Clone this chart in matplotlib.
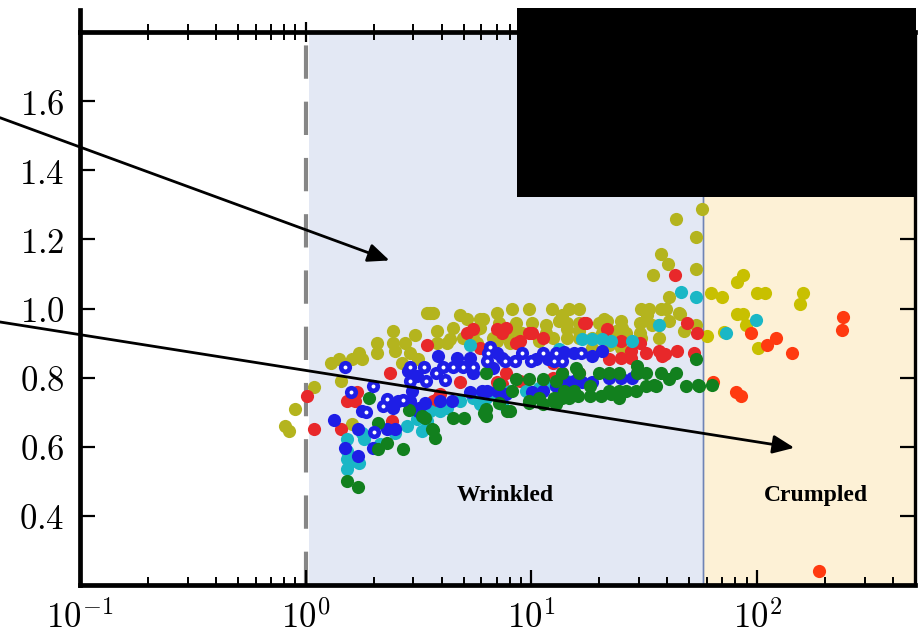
import matplotlib
matplotlib.use("Agg")
import matplotlib.pyplot as plt
from matplotlib.patches import Rectangle
from matplotlib.lines import Line2D
import numpy as np

plt.rcParams['mathtext.fontset'] = 'cm'

# ---------------- data ----------------
olive_x = [0.807, 0.841, 0.894, 1.085, 1.30, 1.41, 1.60, 1.73, 1.77, 2.06, 2.06, 2.43, 2.48, 2.74, 2.89,
           3.13, 1.44, 2.66, 3.43, 2.43, 3.04, 3.54, 3.65, 4.80, 5.16, 5.89, 7.07, 8.24, 9.79, 12.3,
           14.7, 16.3, 4.47, 5.89, 7.21, 10.1, 13.3, 3.80, 4.34, 3.80, 5.48, 6.72, 8.24, 11.6, 16.3,
           6.07, 5.71, 8.58, 11.6, 14.3, 4.95, 7.75, 9.12, 12.4, 4.21, 5.71, 7.0, 8.0, 10.8,
           13.7, 14.3, 16.3, 20.0, 21.5, 25.0, 30.7, 33.3, 32.6, 37.6, 39.6, 45.2, 40.8, 25.3, 30.1,
           34.3, 36.8, 30.1, 26.3, 20.6, 23.8, 18.6, 16.3, 14.3, 22.1, 25.0, 18.6, 47.5, 40.8,
           57.1, 43.8, 53.7, 37.6, 40.4, 53.7, 34.7, 45.7, 53.7, 21.0, 30.7, 36.8, 1.61]
olive_y = [0.661, 0.646, 0.710, 0.774, 0.841, 0.855, 0.855, 0.870, 0.855, 0.870, 0.899, 0.899, 0.878, 0.899, 0.870,
           0.855, 0.791, 0.841, 0.986, 0.936, 0.922, 0.986, 0.986, 0.980, 0.971, 0.971, 0.986, 1.000, 1.000, 1.000,
           1.000, 1.000, 0.945, 0.945, 0.957, 0.957, 0.965, 0.936, 0.913, 0.899, 0.916, 0.916, 0.936, 0.930, 0.936,
           0.971, 0.942, 0.959, 0.951, 0.942, 0.916, 0.922, 0.928, 0.916, 0.901, 0.899, 0.907, 0.899, 0.907,
           0.980, 0.957, 0.959, 0.957, 0.965, 0.965, 1.000, 1.000, 0.980, 1.000, 1.000, 0.986, 0.965, 0.945, 0.957,
           0.951, 0.951, 0.928, 0.930, 0.930, 0.936, 0.916, 0.916, 0.916, 0.893, 0.887, 0.887, 0.936, 1.032,
           1.287, 1.258, 1.206, 1.159, 1.128, 1.113, 1.096, 0.983, 0.951, 0.971, 0.916, 0.916, 0.667]

crumpled_olive_x = [62.6, 70.0, 81.6, 86.8, 100, 108, 160, 155, 81.6, 86.8, 89.4, 71.5, 60.1, 101]
crumpled_olive_y = [1.046, 1.032, 1.078, 1.096, 1.046, 1.046, 1.046, 1.014, 0.983, 0.983, 0.951, 0.933, 0.919, 0.887]

cyan_x = [46.1, 53.7, 99, 72.9, 36.8, 16.8, 18.6, 20.6, 22.6, 28.0, 13.3, 13.3, 13.7, 5.32, 3.54, 3.92,
          4.21, 4.80, 5.48, 6.32, 7.0, 8.0, 9.5, 10.8, 12.4, 14.3, 7.44, 5.89, 1.52, 1.53, 1.52, 1.60,
          1.73, 1.82, 1.77, 2.13, 2.48, 2.80, 3.10, 3.43, 3.29, 1.52]
cyan_y = [1.049, 1.032, 0.968, 0.928, 0.951, 0.913, 0.913, 0.913, 0.907, 0.907, 0.884, 0.762, 0.771, 0.893, 0.704, 0.704,
          0.713, 0.733, 0.742, 0.742, 0.754, 0.762, 0.762, 0.771, 0.783, 0.791, 0.725, 0.725, 0.623, 0.588, 0.536, 0.559,
          0.554, 0.623, 0.641, 0.609, 0.641, 0.661, 0.681, 0.675, 0.646, 0.565]

red_x = [1.01, 1.085, 1.44, 1.52, 1.65, 1.68, 2.35, 2.40, 3.43, 5.16, 5.48, 7.0, 7.75, 8.85, 10.1, 11.2,
         17.5, 4.80, 3.92, 3.80, 5.89, 7.44, 8.58, 9.79, 12.4, 3.65, 7.0, 7.44, 8.85, 11.2, 13.7, 12.4,
         7.75, 17.1, 21.5, 25.0, 27.7, 22.1, 25.0, 27.7, 32.3, 36.8, 38.0, 44.3, 30.1, 49.0, 54.3, 52.6,
         16.3, 13.7, 43.4, 39.2]
red_y = [0.748, 0.652, 0.652, 0.733, 0.733, 0.757, 0.812, 0.675, 0.893, 0.928, 0.942, 0.942, 0.945, 0.907, 0.928, 0.916,
         0.957, 0.786, 0.754, 0.739, 0.887, 0.930, 0.901, 0.930, 0.841, 0.733, 0.786, 0.783, 0.791, 0.791, 0.800, 0.800,
         0.812, 0.957, 0.942, 0.907, 0.878, 0.855, 0.858, 0.858, 0.870, 0.878, 0.864, 0.878, 0.901, 0.957, 0.928, 0.870,
         0.812, 0.814, 1.096, 0.867]

crumpled_red_x = [94.0, 121, 110, 143, 240, 238, 80.7, 85.0, 188, 63.9]
crumpled_red_y = [0.928, 0.916, 0.893, 0.870, 0.974, 0.939, 0.759, 0.748, 0.241, 0.788]

blue_x = [1.34, 1.50, 1.70, 1.77, 1.70, 1.98, 2.28, 2.48, 2.55, 2.83, 3.10, 2.97, 3.36, 3.13, 2.89, 2.43,
          3.84, 4.66, 5.32, 7.0, 7.44, 10.5, 11.8, 13.3, 5.32, 6.01, 3.92, 4.43, 3.19, 6.38, 7.0, 7.75,
          10.1, 11.2, 12.9, 14.3, 5.48, 6.72, 14.0, 15.5, 18.6, 20.6, 15.5, 16.8, 22.1, 25.0, 28.0, 29.4, 18.6]
blue_y = [0.678, 0.597, 0.574, 0.704, 0.652, 0.597, 0.652, 0.652, 0.733, 0.820, 0.806, 0.762, 0.728, 0.704, 0.733, 0.713,
          0.864, 0.858, 0.858, 0.870, 0.858, 0.855, 0.855, 0.864, 0.757, 0.762, 0.733, 0.733, 0.713, 0.762, 0.762, 0.754,
          0.757, 0.762, 0.777, 0.786, 0.812, 0.829, 0.873, 0.870, 0.864, 0.878, 0.791, 0.786, 0.800, 0.800, 0.800, 0.812, 0.786]

ring_x = [1.50, 1.58, 1.98, 1.84, 2.0, 2.28, 2.19, 2.71, 2.89, 3.33, 3.40, 2.89, 3.76, 4.04, 4.47, 4.95,
          5.48, 6.52, 6.45, 6.38, 7.60, 8.41, 9.12, 10.0, 11.2, 12.8, 12.6, 13.7, 4.12, 16.6]
ring_y = [0.832, 0.757, 0.777, 0.701, 0.643, 0.739, 0.719, 0.736, 0.832, 0.832, 0.791, 0.791, 0.812, 0.832, 0.832, 0.832,
          0.832, 0.890, 0.870, 0.849, 0.849, 0.849, 0.870, 0.849, 0.870, 0.870, 0.849, 0.849, 0.794, 0.870]

green_x = [1.90, 2.10, 2.28, 2.71, 2.10, 1.52, 1.70, 3.65, 3.72, 2.86, 3.29, 4.47, 5.05, 6.32, 7.83, 9.79,
           10.8, 12.6, 14.3, 16.0, 18.1, 20.4, 22.6, 12.9, 3.36, 3.61, 6.19, 8.0, 6.32, 7.21, 8.58, 9.79,
           11.2, 12.9, 13.7, 8.24, 6.32, 9.79, 11.2, 12.4, 13.7, 7.21, 15.8, 16.3, 20.0, 22.1, 24.5, 29.4,
           29.4, 32.3, 37.6, 40.8, 43.8, 53.7, 48.5, 55.4, 13.3, 14.7, 22.1, 24.5, 26.3, 29.1, 32.3, 35.7,
           24.5, 18.1, 15.5, 14.0, 63.2, 54.8, 35.0]
green_y = [0.742, 0.670, 0.612, 0.594, 0.594, 0.501, 0.484, 0.649, 0.626, 0.707, 0.690, 0.684, 0.684, 0.690, 0.704, 0.733,
           0.742, 0.742, 0.748, 0.748, 0.748, 0.748, 0.754, 0.725, 0.684, 0.652, 0.699, 0.704, 0.814, 0.783, 0.797, 0.797,
           0.797, 0.791, 0.814, 0.762, 0.710, 0.728, 0.725, 0.733, 0.742, 0.728, 0.829, 0.814, 0.814, 0.814, 0.814, 0.835,
           0.814, 0.814, 0.814, 0.797, 0.814, 0.855, 0.777, 0.777, 0.742, 0.742, 0.762, 0.742, 0.762, 0.762, 0.777, 0.777,
           0.762, 0.777, 0.762, 0.762, 0.780, 0.780, 0.780]

x_ticks = [0.1, 1, 10, 100]
x_tick_labels = [r'$10^{-1}$', r'$10^{0}$', r'$10^{1}$', r'$10^{2}$']
y_ticks = [0.4, 0.6, 0.8, 1.0, 1.2, 1.4, 1.6]
y_tick_labels = [r'$%.1f$' % v for v in y_ticks]

wrinkled_range = (1.03, 57.7)
crumpled_range = (57.7, 500)

# ---------------- figure ----------------
fig = plt.figure(figsize=(9.24, 6.34), dpi=100)
ax = fig.add_axes([80/924, 1 - 585/634, (915-80)/924, (585-32)/634])
ax.set_xscale('log')
ax.set_xlim(0.1, 500)
ax.set_ylim(0.2, 1.8)

ax.axvspan(*wrinkled_range, facecolor='#E3E8F4', edgecolor='none', zorder=0)
ax.axvspan(*crumpled_range, facecolor='#FDF1D6', edgecolor='#7A8BB8', lw=1.0, zorder=0)
ax.axvline(wrinkled_range[1], color='#6F84B5', lw=1.0, zorder=0.5)
ax.axvline(1.0, color='#868686', lw=3.0, linestyle=(0, (8, 5.5)), zorder=1)

s = 90
ax.scatter(olive_x, olive_y, s=s, color='#B4B41E', linewidths=0, zorder=2)
ax.scatter(crumpled_olive_x, crumpled_olive_y, s=s, color='#C8C000', linewidths=0, zorder=2)
ax.scatter(red_x, red_y, s=s, color='#E8282A', linewidths=0, zorder=3)
ax.scatter(crumpled_red_x, crumpled_red_y, s=s, color='#FF3A10', linewidths=0, zorder=3)
ax.scatter(cyan_x, cyan_y, s=s, color='#1AB7C6', linewidths=0, zorder=4)
ax.scatter(blue_x, blue_y, s=s, color='#1E1EE6', linewidths=0, zorder=5)
ax.scatter(green_x, green_y, s=s, color='#12801E', linewidths=0, zorder=6)
ax.scatter(ring_x, ring_y, s=s, color='#1E1EE6', linewidths=0, zorder=7)
ax.scatter(ring_x, ring_y, s=8, color='white', linewidths=0, zorder=8)

ax.text(7.67, 0.458, 'Wrinkled', family='Liberation Serif', fontweight='bold',
        fontsize=17, ha='center', va='center', zorder=9)
ax.text(182, 0.458, 'Crumpled', family='Liberation Serif', fontweight='bold',
        fontsize=17, ha='center', va='center', zorder=9)

arrow = dict(arrowstyle='-|>,head_length=0.65,head_width=0.28', color='black', lw=2,
             mutation_scale=20, shrinkA=0, shrinkB=0)
ax.annotate('', xy=(2.35, 1.139), xycoords='data', xytext=(-0.0958, 0.845),
            textcoords='axes fraction', arrowprops=arrow, annotation_clip=False, zorder=9)
ax.annotate('', xy=(146, 0.597), xycoords='data', xytext=(-0.0958, 0.4756),
            textcoords='axes fraction', arrowprops=arrow, annotation_clip=False, zorder=9)

# ticks and spines
ax.set_xticks(x_ticks)
ax.set_xticklabels(x_tick_labels)
ax.set_yticks(y_ticks)
ax.set_yticklabels(y_tick_labels)
ax.tick_params(axis='both', which='major', direction='in', labelsize=25, pad=11,
               length=11, width=1.6, color='black')
ax.tick_params(axis='x', which='minor', direction='in', length=5.5, width=1.4, top=False)
ax.tick_params(axis='y', which='both', right=True)
ax.tick_params(axis='x', which='both', top=False)
ax.tick_params(axis='y', which='minor', left=False, right=False)
for side in ['left', 'bottom', 'top']:
    ax.spines[side].set_linewidth(3.4)
ax.spines['right'].set_linewidth(2.4)
for sp in ax.spines.values():
    sp.set_zorder(10)

# top axis with crossing ticks
axt = ax.twiny()
axt.set_xscale('log')
axt.set_xlim(ax.get_xlim())
axt.set_xticks(x_ticks)
axt.set_xticklabels([])
axt.tick_params(axis='x', which='major', direction='inout', length=14, width=1.6)
axt.tick_params(axis='x', which='minor', direction='inout', length=11, width=1.4)
for sp in axt.spines.values():
    sp.set_visible(False)

# left spine sticking above the top frame
fig.add_artist(Line2D([80/924, 80/924], [1 - 10/634, 1 - 32/634], color='black', lw=3.4,
                      transform=fig.transFigure))

# black redaction box in the top right
fig.add_artist(Rectangle((517/924, 1 - 197/634), (916-517)/924, (197-8)/634,
                         transform=fig.transFigure, facecolor='black', edgecolor='none', zorder=20))

fig.savefig('out.png', dpi=100)
